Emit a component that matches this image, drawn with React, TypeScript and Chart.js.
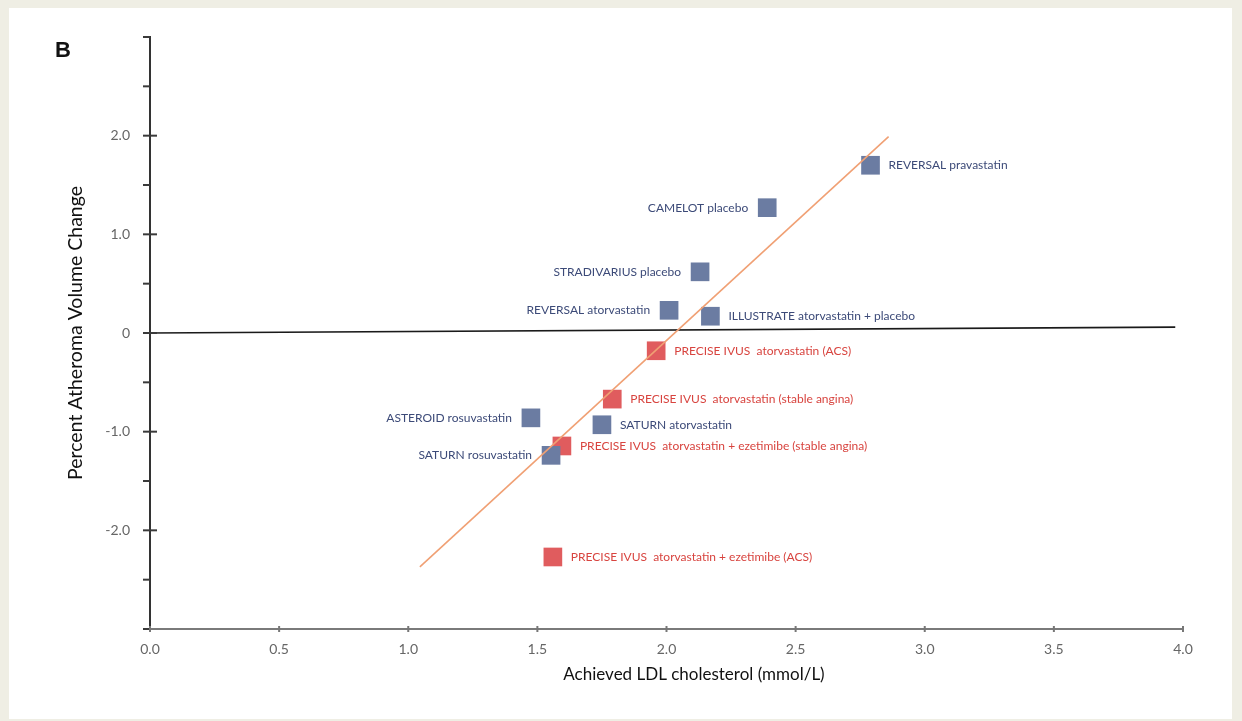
import React, { useEffect, useRef } from "react";
import { Chart, registerables } from "chart.js";

Chart.register(...registerables);

// ---- data ----
const blueNames = [
  "REVERSAL pravastatin",
  "CAMELOT placebo",
  "STRADIVARIUS placebo",
  "REVERSAL atorvastatin",
  "ILLUSTRATE atorvastatin + placebo",
  "ASTEROID rosuvastatin",
  "SATURN atorvastatin",
  "SATURN rosuvastatin",
];
const blueLDL = [2.79, 2.39, 2.13, 2.01, 2.17, 1.475, 1.75, 1.553];
const blueChange = [1.7, 1.27, 0.62, 0.23, 0.17, -0.86, -0.93, -1.24];
const blueSide = ["right", "left", "left", "left", "right", "left", "right", "left"];

const redNames = [
  "PRECISE IVUS  atorvastatin (ACS)",
  "PRECISE IVUS  atorvastatin (stable angina)",
  "PRECISE IVUS  atorvastatin + ezetimibe (stable angina)",
  "PRECISE IVUS  atorvastatin + ezetimibe (ACS)",
];
const redLDL = [1.96, 1.79, 1.595, 1.56];
const redChange = [-0.18, -0.67, -1.145, -2.27];
const redSide = ["right", "right", "right", "right"];

const fitLineX = [1.045, 2.86];
const fitLineY = [-2.37, 1.99];
const zeroLineX = [0, 3.97];
const zeroLineY = [0, 0.06];

const xTitle = "Achieved LDL cholesterol (mmol/L)";
const yTitle = "Percent Atheroma Volume Change";
const panelLabel = "B";

const BLUE = "#6b7ca2";
const RED = "#e05c5e";
const BLUE_TEXT = "#3c4a78";
const RED_TEXT = "#d8443f";

const toPts = (xs: number[], ys: number[]) => xs.map((x, i) => ({ x, y: ys[i] }));

const labelPlugin = {
  id: "pointLabels",
  afterDatasetsDraw(chart: any) {
    const ctx = chart.ctx;
    ctx.save();
    ctx.font = "12px Lato";
    ctx.textBaseline = "middle";
    const groups = [
      { idx: 2, names: blueNames, side: blueSide, color: BLUE_TEXT },
      { idx: 3, names: redNames, side: redSide, color: RED_TEXT },
    ];
    groups.forEach((g) => {
      const meta = chart.getDatasetMeta(g.idx);
      meta.data.forEach((el: any, i: number) => {
        ctx.fillStyle = g.color;
        if (g.side[i] === "left") {
          ctx.textAlign = "right";
          ctx.fillText(g.names[i], el.x - 19, el.y);
        } else {
          ctx.textAlign = "left";
          ctx.fillText(g.names[i], el.x + 18, el.y);
        }
      });
    });
    ctx.restore();
  },
};

const tickPlugin = {
  id: "tickMarks",
  afterDraw(chart: any) {
    const ctx = chart.ctx;
    const ys = chart.scales.y;
    const xs = chart.scales.x;
    ctx.save();
    ctx.lineWidth = 2;
    ctx.strokeStyle = "#3a3a3a";
    const x0 = xs.getPixelForValue(0);
    ys.ticks.forEach((t: any) => {
      const py = ys.getPixelForValue(t.value);
      const major = Number.isInteger(t.value) && Math.abs(t.value) < 3;
      ctx.beginPath();
      ctx.moveTo(x0 - 7, py);
      ctx.lineTo(major ? x0 + 7 : x0, py);
      ctx.stroke();
    });
    ctx.strokeStyle = "#777";
    const y0 = ys.getPixelForValue(-3);
    xs.ticks.forEach((t: any) => {
      const px = xs.getPixelForValue(t.value);
      ctx.beginPath();
      ctx.moveTo(px, y0 - 3);
      ctx.lineTo(px, y0 + 3);
      ctx.stroke();
    });
    // panel label
    ctx.fillStyle = "#111";
    ctx.font = "bold 22px 'Liberation Sans'";
    ctx.textAlign = "center";
    ctx.textBaseline = "middle";
    ctx.fillText(panelLabel, 63, 51);
    // x axis title (offset to the right of the axis centre, as in the source)
    ctx.font = "17px Lato";
    ctx.fillStyle = "#111";
    ctx.fillText(xTitle, 694, 675);
    ctx.restore();
  },
};

export default function App() {
  const ref = useRef<HTMLCanvasElement>(null);
  useEffect(() => {
    if (!ref.current) return;
    const chart = new Chart(ref.current, {
      type: "scatter",
      data: {
        datasets: [
          {
            type: "line",
            data: toPts(fitLineX, fitLineY),
            borderColor: "#f0a074",
            borderWidth: 1.6,
            pointRadius: 0,
            fill: false,
          } as any,
          {
            type: "line",
            data: toPts(zeroLineX, zeroLineY),
            borderColor: "#1a1a1a",
            borderWidth: 1.6,
            pointRadius: 0,
            fill: false,
          } as any,
          {
            data: toPts(blueLDL, blueChange),
            pointStyle: "rect",
            pointRadius: 13.2,
            backgroundColor: BLUE,
            borderWidth: 0,
          },
          {
            data: toPts(redLDL, redChange),
            pointStyle: "rect",
            pointRadius: 13.2,
            backgroundColor: RED,
            borderWidth: 0,
          },
        ],
      },
      options: {
        animation: false,
        responsive: false,
        devicePixelRatio: 1,
        layout: { padding: { left: 0, top: 37, right: 59, bottom: 0 } },
        plugins: { legend: { display: false }, tooltip: { enabled: false } },
        scales: {
          x: {
            type: "linear",
            min: 0,
            max: 4,
            afterFit: (s: any) => {
              s.height = 92;
            },
            grid: { display: false, drawTicks: false },
            border: { display: true, color: "#7a7a7a", width: 2 },
            ticks: {
              stepSize: 0.5,
              padding: 12,
              color: "#666",
              font: { family: "Lato", size: 14 },
              callback: (v: any) => Number(v).toFixed(1),
            },
          },
          y: {
            type: "linear",
            min: -3,
            max: 3,
            afterFit: (s: any) => {
              s.width = 150;
            },
            grid: { display: false, drawTicks: false },
            border: { display: true, color: "#333", width: 2 },
            ticks: {
              stepSize: 0.5,
              padding: 20,
              autoSkip: false,
              color: "#666",
              font: { family: "Lato", size: 14 },
              callback: (v: any) => {
                const n = Number(v);
                if (!Number.isInteger(n) || Math.abs(n) >= 3) return "";
                return n === 0 ? "0" : n.toFixed(1);
              },
            },
            title: {
              display: true,
              text: yTitle,
              color: "#111",
              font: { family: "Lato", size: 19.5 },
              padding: { top: 64 },
            },
          },
        },
      },
      plugins: [labelPlugin, tickPlugin],
    });
    return () => chart.destroy();
  }, []);
  return (
    <div
      style={{
        position: "fixed",
        left: 0,
        top: 0,
        width: 1242,
        height: 721,
        background: "#efeee4",
      }}
    >
      <div
        style={{
          position: "absolute",
          left: 9,
          top: 8,
          width: 1223,
          height: 711,
          background: "#ffffff",
        }}
      />
      <canvas
        ref={ref}
        width={1242}
        height={721}
        style={{ position: "absolute", left: 0, top: 0, width: 1242, height: 721 }}
      />
    </div>
  );
}
